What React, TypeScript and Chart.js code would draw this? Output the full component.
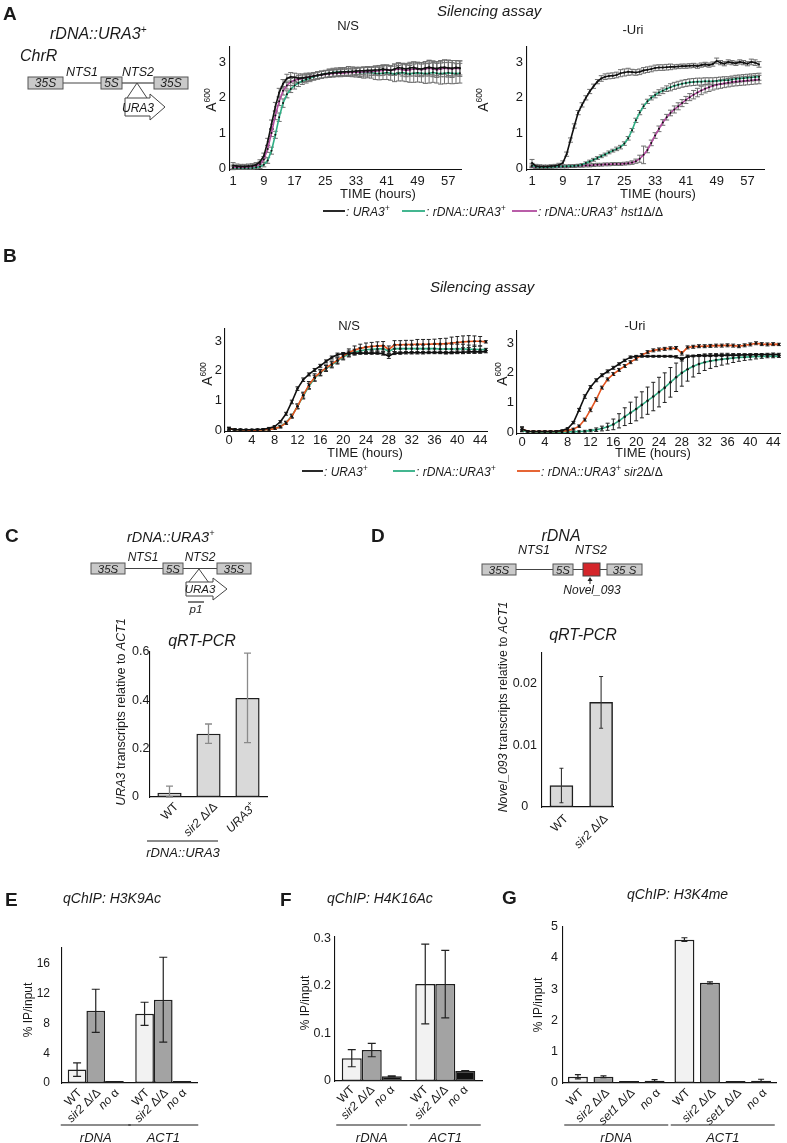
import React, { useEffect, useRef } from 'react';
import { Chart, registerables } from 'chart.js';

Chart.register(...registerables);

const FONT = '"Liberation Sans", Arial, Helvetica, sans-serif';
Chart.defaults.font.family = FONT;
Chart.defaults.color = '#1a1a1a';

// ---------------- DATA ----------------
const HOURS_A = [1,2,3,4,5,6,7,8,9,10,11,12,13,14,15,16,17,18,19,20,21,22,23,24,25,26,27,28,29,30,31,32,33,34,35,36,37,38,39,40,41,42,43,44,45,46,47,48,49,50,51,52,53,54,55,56,57,58,59,60];
const TICKS_A = [1, 9, 17, 25, 33, 41, 49, 57];
const HOURS_B = [0,1,2,3,4,5,6,7,8,9,10,11,12,13,14,15,16,17,18,19,20,21,22,23,24,25,26,27,28,29,30,31,32,33,34,35,36,37,38,39,40,41,42,43,44,45];
const TICKS_B = [0, 4, 8, 12, 16, 20, 24, 28, 32, 36, 40, 44];
const TICKS_OD = [0, 1, 2, 3];

// Panel A, N/S
const A_NS_URA3 = [0.08,0.06,0.05,0.05,0.06,0.07,0.1,0.18,0.35,0.75,1.25,1.75,2.15,2.4,2.55,2.6,2.58,2.56,2.56,2.58,2.6,2.62,2.64,2.66,2.68,2.7,2.71,2.72,2.73,2.74,2.74,2.75,2.76,2.77,2.77,2.78,2.78,2.79,2.8,2.82,2.8,2.78,2.82,2.86,2.84,2.82,2.85,2.86,2.83,2.82,2.85,2.87,2.85,2.83,2.86,2.87,2.85,2.84,2.86,2.85];
const A_NS_URA3_ERR = [0.08,0.06,0.06,0.06,0.06,0.06,0.06,0.06,0.08,0.1,0.12,0.12,0.12,0.12,0.12,0.12,0.12,0.12,0.12,0.12,0.1,0.1,0.1,0.1,0.1,0.1,0.1,0.1,0.1,0.1,0.1,0.1,0.1,0.1,0.1,0.1,0.1,0.12,0.12,0.12,0.12,0.12,0.14,0.14,0.14,0.16,0.16,0.16,0.18,0.18,0.18,0.2,0.2,0.2,0.2,0.2,0.22,0.22,0.2,0.2];
const A_NS_HST1 = [0.03,0.03,0.03,0.03,0.04,0.05,0.07,0.12,0.25,0.55,1.0,1.5,1.9,2.2,2.35,2.45,2.5,2.53,2.55,2.57,2.6,2.62,2.64,2.65,2.67,2.68,2.69,2.7,2.7,2.71,2.72,2.72,2.73,2.73,2.74,2.74,2.75,2.76,2.77,2.78,2.8,2.78,2.8,2.82,2.8,2.78,2.8,2.82,2.81,2.8,2.82,2.84,2.82,2.8,2.82,2.84,2.83,2.82,2.84,2.83];
const A_NS_HST1_ERR = [0.06,0.05,0.05,0.05,0.05,0.05,0.05,0.06,0.08,0.1,0.1,0.12,0.12,0.12,0.1,0.1,0.1,0.1,0.1,0.1,0.1,0.1,0.1,0.1,0.1,0.1,0.1,0.1,0.1,0.1,0.1,0.1,0.1,0.12,0.12,0.12,0.12,0.12,0.14,0.14,0.14,0.14,0.16,0.16,0.18,0.18,0.18,0.2,0.2,0.2,0.2,0.22,0.22,0.22,0.22,0.24,0.24,0.24,0.22,0.22];
const A_NS_RDNA = [0.01,0.01,0.01,0.01,0.01,0.01,0.02,0.04,0.1,0.22,0.5,0.95,1.45,1.85,2.1,2.25,2.35,2.42,2.48,2.52,2.56,2.6,2.63,2.66,2.68,2.7,2.72,2.73,2.74,2.74,2.75,2.74,2.73,2.72,2.72,2.73,2.72,2.7,2.69,2.7,2.72,2.7,2.68,2.7,2.72,2.7,2.68,2.7,2.71,2.7,2.69,2.7,2.72,2.7,2.69,2.7,2.71,2.7,2.69,2.7];
const A_NS_RDNA_ERR = [0.05,0.04,0.04,0.04,0.04,0.04,0.04,0.05,0.06,0.08,0.1,0.1,0.12,0.12,0.1,0.1,0.1,0.1,0.1,0.1,0.1,0.1,0.1,0.1,0.1,0.12,0.12,0.12,0.12,0.12,0.14,0.14,0.14,0.14,0.16,0.16,0.16,0.18,0.18,0.18,0.2,0.2,0.22,0.22,0.24,0.24,0.24,0.26,0.26,0.26,0.28,0.28,0.28,0.28,0.3,0.3,0.3,0.3,0.28,0.28];

// Panel A, -Uri
const A_URI_URA3 = [0.15,0.06,0.05,0.05,0.05,0.06,0.07,0.09,0.15,0.4,0.8,1.2,1.58,1.8,2.0,2.18,2.33,2.46,2.55,2.6,2.62,2.63,2.65,2.7,2.72,2.74,2.73,2.72,2.74,2.78,2.8,2.82,2.85,2.86,2.86,2.87,2.88,2.88,2.89,2.9,2.9,2.91,2.92,2.9,2.93,2.95,2.93,2.96,3.05,3.0,2.97,3.02,3.0,2.98,3.02,3.0,2.97,3.02,3.0,2.95];
const A_URI_URA3_ERR = [0.1,0.05,0.05,0.04,0.04,0.04,0.04,0.05,0.06,0.06,0.06,0.06,0.06,0.06,0.06,0.06,0.06,0.06,0.08,0.08,0.08,0.08,0.08,0.1,0.1,0.1,0.08,0.08,0.08,0.08,0.08,0.08,0.08,0.08,0.08,0.08,0.08,0.06,0.06,0.06,0.06,0.06,0.06,0.06,0.06,0.06,0.06,0.06,0.08,0.06,0.06,0.06,0.06,0.06,0.06,0.06,0.06,0.08,0.08,0.08];
const A_URI_RDNA = [0.08,0.04,0.03,0.03,0.03,0.04,0.04,0.05,0.05,0.06,0.06,0.07,0.08,0.1,0.15,0.19,0.24,0.29,0.34,0.39,0.45,0.5,0.55,0.6,0.7,0.85,1.08,1.36,1.58,1.76,1.9,2.0,2.08,2.15,2.2,2.26,2.3,2.34,2.37,2.4,2.42,2.44,2.45,2.46,2.46,2.47,2.47,2.47,2.48,2.49,2.5,2.5,2.52,2.54,2.55,2.56,2.57,2.58,2.59,2.6];
const A_URI_RDNA_ERR = [0.06,0.04,0.03,0.03,0.03,0.03,0.03,0.03,0.03,0.03,0.03,0.03,0.03,0.03,0.03,0.04,0.04,0.04,0.04,0.04,0.04,0.04,0.05,0.05,0.05,0.05,0.05,0.06,0.06,0.06,0.06,0.06,0.08,0.08,0.08,0.08,0.1,0.1,0.1,0.1,0.1,0.1,0.1,0.1,0.1,0.1,0.1,0.1,0.1,0.1,0.1,0.1,0.1,0.1,0.1,0.1,0.1,0.1,0.1,0.1];
const A_URI_HST1 = [0.05,0.03,0.03,0.03,0.03,0.03,0.04,0.04,0.05,0.05,0.06,0.06,0.07,0.07,0.08,0.08,0.09,0.1,0.1,0.11,0.11,0.12,0.12,0.12,0.13,0.14,0.16,0.2,0.27,0.38,0.52,0.72,0.93,1.12,1.3,1.45,1.57,1.67,1.76,1.85,1.94,2.02,2.09,2.15,2.21,2.26,2.3,2.34,2.37,2.39,2.41,2.43,2.45,2.46,2.47,2.48,2.49,2.5,2.51,2.52];
const A_URI_HST1_ERR = [0.04,0.03,0.03,0.03,0.03,0.03,0.03,0.03,0.04,0.04,0.04,0.04,0.04,0.04,0.04,0.04,0.04,0.04,0.04,0.04,0.04,0.04,0.04,0.04,0.04,0.04,0.05,0.06,0.1,0.25,0.08,0.08,0.08,0.08,0.08,0.08,0.08,0.1,0.1,0.1,0.1,0.1,0.12,0.12,0.12,0.12,0.12,0.12,0.12,0.12,0.12,0.12,0.12,0.12,0.12,0.12,0.12,0.12,0.12,0.12];

// Panel B, N/S
const B_NS_URA3 = [0.05,0.02,0.01,0.01,0.01,0.02,0.03,0.06,0.12,0.28,0.55,0.95,1.4,1.7,1.88,2.03,2.17,2.32,2.45,2.55,2.58,2.59,2.6,2.6,2.6,2.6,2.6,2.58,2.5,2.6,2.6,2.61,2.61,2.61,2.61,2.62,2.62,2.62,2.61,2.62,2.63,2.63,2.64,2.64,2.64,2.65];
const B_NS_URA3_ERR = [0.05,0.02,0.02,0.02,0.02,0.02,0.02,0.03,0.03,0.04,0.05,0.06,0.06,0.06,0.05,0.05,0.05,0.05,0.05,0.05,0.04,0.04,0.04,0.04,0.04,0.04,0.04,0.05,0.08,0.05,0.04,0.04,0.04,0.04,0.04,0.04,0.04,0.04,0.04,0.04,0.04,0.04,0.04,0.04,0.04,0.04];
const B_NS_RDNA = [0.04,0.02,0.01,0.0,0.0,0.0,0.01,0.02,0.05,0.12,0.25,0.48,0.8,1.15,1.48,1.75,1.93,2.08,2.2,2.33,2.47,2.57,2.63,2.68,2.71,2.73,2.74,2.75,2.66,2.75,2.75,2.75,2.75,2.75,2.75,2.75,2.75,2.74,2.74,2.74,2.74,2.74,2.73,2.73,2.72,2.72];
const B_NS_RDNA_ERR = [0.04,0.02,0.02,0.02,0.02,0.02,0.02,0.02,0.03,0.04,0.05,0.06,0.08,0.1,0.1,0.1,0.1,0.1,0.1,0.1,0.1,0.1,0.1,0.1,0.1,0.1,0.1,0.1,0.1,0.1,0.12,0.12,0.12,0.12,0.12,0.14,0.14,0.14,0.16,0.16,0.16,0.16,0.14,0.14,0.12,0.04];
const B_NS_SIR2 = [0.04,0.02,0.01,0.0,0.0,0.0,0.01,0.02,0.05,0.11,0.24,0.46,0.8,1.18,1.52,1.78,1.95,2.1,2.23,2.36,2.5,2.62,2.7,2.76,2.8,2.82,2.84,2.85,2.72,2.88,2.88,2.89,2.89,2.9,2.9,2.9,2.91,2.91,2.92,2.94,2.96,2.98,2.99,3.0,3.0,2.98];
const B_NS_SIR2_ERR = [0.04,0.02,0.02,0.02,0.02,0.02,0.02,0.02,0.03,0.04,0.05,0.06,0.08,0.1,0.12,0.12,0.1,0.1,0.1,0.1,0.1,0.12,0.14,0.14,0.14,0.14,0.14,0.14,0.12,0.14,0.14,0.14,0.14,0.16,0.16,0.16,0.16,0.18,0.18,0.2,0.2,0.2,0.2,0.18,0.16,0.04];

// Panel B, -Uri
const B_URI_URA3 = [0.1,0.03,0.02,0.02,0.02,0.02,0.03,0.05,0.12,0.32,0.75,1.2,1.52,1.75,1.92,2.05,2.17,2.3,2.42,2.53,2.56,2.56,2.56,2.56,2.56,2.56,2.56,2.54,2.46,2.56,2.57,2.58,2.58,2.58,2.59,2.59,2.6,2.6,2.6,2.61,2.61,2.62,2.62,2.62,2.63,2.62];
const B_URI_URA3_ERR = [0.08,0.02,0.02,0.02,0.02,0.02,0.02,0.02,0.03,0.04,0.05,0.06,0.05,0.05,0.05,0.05,0.05,0.04,0.04,0.04,0.03,0.03,0.03,0.03,0.03,0.03,0.03,0.04,0.06,0.04,0.03,0.03,0.03,0.03,0.03,0.03,0.03,0.03,0.03,0.03,0.03,0.03,0.03,0.04,0.04,0.04];
const B_URI_RDNA = [0.05,0.02,0.01,0.0,0.0,0.0,0.0,0.0,0.01,0.01,0.02,0.03,0.05,0.08,0.12,0.18,0.26,0.38,0.52,0.65,0.78,0.92,1.06,1.2,1.35,1.5,1.68,1.85,2.0,2.12,2.22,2.3,2.36,2.4,2.43,2.46,2.48,2.5,2.52,2.53,2.54,2.55,2.55,2.56,2.56,2.56];
const B_URI_RDNA_ERR = [0.04,0.02,0.02,0.02,0.02,0.02,0.02,0.02,0.02,0.02,0.02,0.03,0.04,0.06,0.08,0.12,0.18,0.24,0.3,0.36,0.4,0.44,0.46,0.48,0.5,0.5,0.5,0.48,0.45,0.4,0.36,0.32,0.28,0.25,0.22,0.2,0.18,0.15,0.13,0.11,0.1,0.08,0.06,0.05,0.05,0.04];
const B_URI_SIR2 = [0.1,0.03,0.02,0.02,0.02,0.02,0.02,0.03,0.05,0.1,0.2,0.42,0.75,1.1,1.5,1.78,1.96,2.1,2.23,2.36,2.48,2.6,2.7,2.76,2.79,2.81,2.83,2.84,2.66,2.86,2.88,2.9,2.9,2.91,2.92,2.92,2.93,2.92,2.9,2.93,2.96,3.0,2.97,2.96,2.97,2.96];
const B_URI_SIR2_ERR = [0.06,0.02,0.02,0.02,0.02,0.02,0.02,0.02,0.02,0.03,0.04,0.05,0.06,0.06,0.05,0.05,0.05,0.05,0.05,0.05,0.05,0.05,0.05,0.05,0.05,0.05,0.05,0.05,0.06,0.05,0.05,0.05,0.05,0.05,0.05,0.05,0.05,0.05,0.05,0.05,0.05,0.05,0.05,0.05,0.05,0.04];

// Panel C
const C_CATEGORIES = ['WT', 'sir2 Δ/Δ', 'URA3+'];
const C_VALUES = [0.018, 0.262, 0.41];
const C_ERRORS = [0.027, 0.04, 0.185];
const C_TICKS = [0, 0.2, 0.4, 0.6];
// Panel D
const D_CATEGORIES = ['WT', 'sir2 Δ/Δ'];
const D_POSITIONS = [1, 2];
const D_VALUES = [0.0035, 0.017];
const D_ERRORS = [0.0028, 0.0042];
const D_TICKS = [0, 0.01, 0.02];
// Panels E-G
const CHIP_LOCI = ['rDNA', 'ACT1'];
const E_WT = [1.8, 9.3];
const E_WT_ERR = [0.9, 1.55];
const E_SIR2 = [9.7, 11.2];
const E_SIR2_ERR = [2.9, 5.7];
const E_NOAB = [0.15, 0.15];
const E_TICKS = [0, 4, 8, 12, 16];
const F_WT = [0.048, 0.204];
const F_WT_ERR = [0.018, 0.084];
const F_SIR2 = [0.065, 0.204];
const F_SIR2_ERR = [0.014, 0.071];
const F_NOAB = [0.01, 0.021];
const F_NOAB_ERR = [0.001, 0.001];
const F_TICKS = [0, 0.1, 0.2, 0.3];
const G_WT = [0.2, 4.58];
const G_WT_ERR = [0.07, 0.06];
const G_SIR2 = [0.2, 3.2];
const G_SIR2_ERR = [0.03, 0.03];
const G_SET1 = [0.04, 0.04];
const G_NOAB = [0.07, 0.07];
const G_NOAB_ERR = [0.04, 0.05];
const G_TICKS = [0, 1, 2, 3, 4, 5];

// ---------------- STYLE ----------------
const C_BLACK = '#111111';
const C_GREEN = '#2fae84';
const C_MAGENTA = '#b24b9f';
const C_ORANGE = '#e4541f';
const BAR_LIGHT = '#f2f2f2';
const BAR_MID = '#a3a3a3';
const BAR_DARK = '#111111';
const BAR_C = '#d9d9d9';

type Box = { cx: number; cy: number; cw: number; ch: number; l: number; t: number; r: number; b: number };
type Seg = { t: string; i?: boolean; sup?: boolean };

const BOX_A_NS: Box = { cx: 202, cy: 35, cw: 265, ch: 157, l: 230, t: 40, r: 461, b: 170 };
const BOX_A_URI: Box = { cx: 499, cy: 35, cw: 273, ch: 157, l: 527, t: 40, r: 764, b: 170 };
const BOX_B_NS: Box = { cx: 197, cy: 318, cw: 298, ch: 134, l: 225, t: 325, r: 487, b: 432 };
const BOX_B_URI: Box = { cx: 489, cy: 320, cw: 297, ch: 134, l: 517, t: 327, r: 780, b: 434 };
const BOX_C: Box = { cx: 132, cy: 640, cw: 143, ch: 210, l: 150, t: 652, r: 267, b: 797 };
const BOX_D: Box = { cx: 510, cy: 640, cw: 115, ch: 220, l: 542, t: 648, r: 613, b: 807 };
const BOX_E: Box = { cx: 24, cy: 928, cw: 186, ch: 215, l: 62, t: 937, r: 197, b: 1083 };
const BOX_F: Box = { cx: 300, cy: 925, cw: 195, ch: 218, l: 335, t: 935, r: 482, b: 1081 };
const BOX_G: Box = { cx: 533, cy: 914, cw: 254, ch: 229, l: 563, t: 924, r: 776, b: 1083 };

// ---------------- PLUGINS ----------------
function errPlugin(color: string, width: number, cap: number, under: boolean) {
  const draw = (chart: any) => {
    const ctx = chart.ctx;
    ctx.save();
    ctx.strokeStyle = color;
    ctx.lineWidth = width;
    chart.data.datasets.forEach((ds: any, di: number) => {
      const errs = ds.errors;
      if (!errs) return;
      const meta = chart.getDatasetMeta(di);
      const ys = chart.scales[meta.yAxisID];
      meta.data.forEach((el: any, i: number) => {
        const e = errs[i];
        if (!e) return;
        const raw = ds.data[i];
        const v = typeof raw === 'number' ? raw : raw.y;
        const x = el.x;
        const y1 = ys.getPixelForValue(v + e);
        const y2 = ys.getPixelForValue(Math.max(ys.min, v - e));
        ctx.beginPath();
        ctx.moveTo(x, y1); ctx.lineTo(x, y2);
        ctx.moveTo(x - cap, y1); ctx.lineTo(x + cap, y1);
        ctx.moveTo(x - cap, y2); ctx.lineTo(x + cap, y2);
        ctx.stroke();
      });
    });
    ctx.restore();
  };
  return under ? { id: 'errUnder', beforeDatasetsDraw: draw } : { id: 'errOver', afterDatasetsDraw: draw };
}

function drawSegs(ctx: any, segs: Seg[], x: number, y: number, size: number) {
  const f = (s: Seg) => `${s.i ? 'italic ' : ''}${s.sup ? Math.round(size * 0.7) : size}px ${FONT}`;
  let total = 0;
  segs.forEach((s) => { ctx.font = f(s); total += ctx.measureText(s.t).width; });
  ctx.save();
  ctx.translate(x, y);
  ctx.rotate(-Math.PI / 4);
  ctx.textBaseline = 'middle';
  ctx.textAlign = 'left';
  ctx.fillStyle = '#1a1a1a';
  let cur = -total;
  segs.forEach((s) => {
    ctx.font = f(s);
    ctx.fillText(s.t, cur, s.sup ? -size * 0.35 : 0);
    cur += ctx.measureText(s.t).width;
  });
  ctx.restore();
}

function labelPlugin(o: { labelFor: (di: number, i: number) => Seg[]; dx: number; dy: number; size: number; groups?: { names: string[]; half: number; lineDy: number; textDy: number } }) {
  return {
    id: 'barLabels',
    afterDraw(chart: any) {
      const ctx = chart.ctx;
      const bottom = chart.chartArea.bottom;
      chart.data.datasets.forEach((ds: any, di: number) => {
        const meta = chart.getDatasetMeta(di);
        meta.data.forEach((el: any, i: number) => {
          drawSegs(ctx, o.labelFor(di, i), el.x + o.dx, bottom + o.dy, o.size);
        });
      });
      if (o.groups) {
        const g = o.groups;
        const xs = chart.scales.x;
        g.names.forEach((n, gi) => {
          const cx = xs.getPixelForValue(gi);
          ctx.save();
          ctx.strokeStyle = '#1a1a1a';
          ctx.lineWidth = 1.2;
          ctx.beginPath();
          ctx.moveTo(cx - g.half, bottom + g.lineDy);
          ctx.lineTo(cx + g.half, bottom + g.lineDy);
          ctx.stroke();
          ctx.font = `italic 13px ${FONT}`;
          ctx.textAlign = 'center';
          ctx.textBaseline = 'alphabetic';
          ctx.fillStyle = '#1a1a1a';
          ctx.fillText(n, cx, bottom + g.textDy);
          ctx.restore();
        });
      }
    },
  };
}

// ---------------- CONFIG BUILDERS ----------------
function yAxis(box: Box, min: number, max: number, ticks: number[], size: number, pad: number, align = 'near') {
  return {
    type: 'linear', position: 'left', min, max,
    afterBuildTicks: (s: any) => { s.ticks = ticks.map((v) => ({ value: v })); },
    afterFit: (s: any) => { s.width = box.l - box.cx; },
    grid: { display: false, drawTicks: false },
    border: { display: true, color: '#111', width: 1.1 },
    ticks: { font: { size }, color: '#1a1a1a', padding: pad, crossAlign: align, callback: (v: any) => String(v) },
  };
}

function layout(box: Box) {
  return { padding: { top: box.t - box.cy, right: box.cx + box.cw - box.r, left: 0, bottom: 0 } };
}

type Series = { values: number[]; errors: number[]; color: string };

function lineConfig(box: Box, hours: number[], series: Series[], xr: number[], xticks: number[], yr: number[], o: any) {
  return {
    type: 'line',
    data: {
      datasets: series.map((s) => ({
        data: hours.map((h, i) => ({ x: h, y: s.values[i] })),
        errors: s.errors,
        borderColor: s.color,
        borderWidth: o.lw,
        pointRadius: o.pr,
        pointBackgroundColor: '#111',
        pointBorderWidth: 0,
        pointHoverRadius: 0,
        tension: 0,
        fill: false,
      })),
    },
    options: {
      responsive: false, maintainAspectRatio: false, animation: false, events: [],
      layout: layout(box),
      plugins: { legend: { display: false }, tooltip: { enabled: false } },
      scales: {
        x: {
          type: 'linear', min: xr[0], max: xr[1],
          afterBuildTicks: (s: any) => { s.ticks = xticks.map((v) => ({ value: v })); },
          afterFit: (s: any) => { s.height = box.cy + box.ch - box.b; },
          grid: { display: false, drawTicks: false },
          border: { display: true, color: '#111', width: 1.1 },
          ticks: { font: { size: 13 }, color: '#1a1a1a', padding: o.xpad, maxRotation: 0, autoSkip: false, callback: (v: any) => String(v) },
        },
        y: yAxis(box, yr[0], yr[1], TICKS_OD, 13, o.ypad),
      },
    },
    plugins: [errPlugin(o.err, 1, o.cap, true)],
  };
}

function barDataset(values: any[], errors: number[] | null, fill: string, extra: any = {}) {
  return { data: values, errors, backgroundColor: fill, borderColor: '#1f1f1f', borderWidth: 1.5, borderSkipped: false, ...extra };
}

function barConfig(box: Box, labels: any, datasets: any[], yr: number[], yticks: number[], o: any) {
  return {
    type: 'bar',
    data: { labels, datasets },
    options: {
      responsive: false, maintainAspectRatio: false, animation: false, events: [],
      layout: layout(box),
      plugins: { legend: { display: false }, tooltip: { enabled: false } },
      scales: {
        x: {
          ...(o.xLinear ? { type: 'linear', min: o.xLinear[0], max: o.xLinear[1], offset: false } : { type: 'category', offset: true }),
          afterFit: (s: any) => { s.height = box.cy + box.ch - box.b; },
          grid: { display: false, drawTicks: false },
          border: { display: true, color: '#111', width: 1.2 },
          ticks: { display: false },
        },
        y: yAxis(box, yr[0], yr[1], yticks, o.tick, o.tpad, o.align),
      },
    },
    plugins: [errPlugin(o.errColor, o.errWidth, o.cap, false), labelPlugin(o.labels)],
  };
}

const STRAIN_SEGS: Seg[][] = [
  [{ t: 'WT' }],
  [{ t: 'sir2', i: true }, { t: ' Δ/Δ' }],
  [{ t: 'no', i: true }, { t: ' α' }],
];
const STRAIN_SEGS_G: Seg[][] = [
  [{ t: 'WT' }],
  [{ t: 'sir2', i: true }, { t: ' Δ/Δ' }],
  [{ t: 'set1', i: true }, { t: ' Δ/Δ' }],
  [{ t: 'no', i: true }, { t: ' α' }],
];
const C_SEGS: Seg[][] = [
  [{ t: 'WT' }],
  [{ t: 'sir2', i: true }, { t: ' Δ/Δ' }],
  [{ t: 'URA3', i: true }, { t: '+', sup: true }],
];
const D_SEGS: Seg[][] = [
  [{ t: 'WT' }],
  [{ t: 'sir2', i: true }, { t: ' Δ/Δ' }],
];

const mkANS = (box: Box) => lineConfig(box, HOURS_A, [
  { values: A_NS_URA3, errors: A_NS_URA3_ERR, color: C_BLACK },
  { values: A_NS_HST1, errors: A_NS_HST1_ERR, color: C_MAGENTA },
  { values: A_NS_RDNA, errors: A_NS_RDNA_ERR, color: C_GREEN },
], [0.2, 60.3], TICKS_A, [-0.05, 3.45], { lw: 1.6, pr: 1, err: '#6f6f6f', cap: 2.5, xpad: 4, ypad: 4 });

const mkAURI = (box: Box) => lineConfig(box, HOURS_A, [
  { values: A_URI_URA3, errors: A_URI_URA3_ERR, color: C_BLACK },
  { values: A_URI_RDNA, errors: A_URI_RDNA_ERR, color: C_GREEN },
  { values: A_URI_HST1, errors: A_URI_HST1_ERR, color: C_MAGENTA },
], [-0.3, 61.3], TICKS_A, [-0.05, 3.45], { lw: 1.6, pr: 1, err: '#6f6f6f', cap: 2.5, xpad: 4, ypad: 4 });

const mkBNS = (box: Box) => lineConfig(box, HOURS_B, [
  { values: B_NS_URA3, errors: B_NS_URA3_ERR, color: C_BLACK },
  { values: B_NS_SIR2, errors: B_NS_SIR2_ERR, color: C_ORANGE },
  { values: B_NS_RDNA, errors: B_NS_RDNA_ERR, color: C_GREEN },
], [-0.7, 45.2], TICKS_B, [-0.065, 3.42], { lw: 1.6, pr: 1.3, err: '#222', cap: 2, xpad: 1, ypad: 3 });

const mkBURI = (box: Box) => lineConfig(box, HOURS_B, [
  { values: B_URI_URA3, errors: B_URI_URA3_ERR, color: C_BLACK },
  { values: B_URI_SIR2, errors: B_URI_SIR2_ERR, color: C_ORANGE },
  { values: B_URI_RDNA, errors: B_URI_RDNA_ERR, color: C_GREEN },
], [-0.88, 45.2], TICKS_B, [-0.065, 3.42], { lw: 1.6, pr: 1.3, err: '#222', cap: 2, xpad: 1, ypad: 3 });

const mkC = (box: Box) => barConfig(box, C_CATEGORIES, [
  barDataset(C_VALUES, C_ERRORS, BAR_C, { barPercentage: 0.62, categoryPercentage: 1 }),
], [0, 0.6], C_TICKS, {
  tick: 12.5, tpad: 3, align: 'far', errColor: '#8a8a8a', errWidth: 1.3, cap: 3.5,
  labels: { labelFor: (_d: number, i: number) => C_SEGS[i], dx: 7, dy: 8, size: 12 },
});

const mkD = (box: Box) => barConfig(box, undefined, [
  barDataset(D_VALUES.map((v, i) => ({ x: D_POSITIONS[i], y: v })), D_ERRORS, BAR_C, { barThickness: 23 }),
], [0, 0.0251], D_TICKS, {
  tick: 12.5, tpad: 5, align: 'center', errColor: '#333', errWidth: 1.1, cap: 2, xLinear: [0.51, 2.3],
  labels: { labelFor: (_d: number, i: number) => D_SEGS[i], dx: 5, dy: 10, size: 12 },
});

const mkE = (box: Box) => barConfig(box, CHIP_LOCI, [
  barDataset(E_WT, E_WT_ERR, BAR_LIGHT, { categoryPercentage: 0.83, barPercentage: 1 }),
  barDataset(E_SIR2, E_SIR2_ERR, BAR_MID, { categoryPercentage: 0.83, barPercentage: 1 }),
  barDataset(E_NOAB, null, BAR_DARK, { categoryPercentage: 0.83, barPercentage: 1, minBarLength: 2 }),
], [0, 18.25], E_TICKS, {
  tick: 12, tpad: 12, align: 'near', errColor: '#222', errWidth: 1.2, cap: 4,
  labels: { labelFor: (di: number) => STRAIN_SEGS[di], dx: 3, dy: 8, size: 12, groups: { names: CHIP_LOCI, half: 35, lineDy: 42, textDy: 59 } },
});

const mkF = (box: Box) => barConfig(box, CHIP_LOCI, [
  barDataset(F_WT, F_WT_ERR, BAR_LIGHT, { categoryPercentage: 0.816, barPercentage: 1 }),
  barDataset(F_SIR2, F_SIR2_ERR, BAR_MID, { categoryPercentage: 0.816, barPercentage: 1 }),
  barDataset(F_NOAB, F_NOAB_ERR, BAR_DARK, { categoryPercentage: 0.816, barPercentage: 1, minBarLength: 2 }),
], [0, 0.304], F_TICKS, {
  tick: 12.5, tpad: 4, align: 'near', errColor: '#222', errWidth: 1.2, cap: 4,
  labels: { labelFor: (di: number) => STRAIN_SEGS[di], dx: 1, dy: 7, size: 12, groups: { names: CHIP_LOCI, half: 35.5, lineDy: 44, textDy: 61 } },
});

const mkG = (box: Box) => barConfig(box, CHIP_LOCI, [
  barDataset(G_WT, G_WT_ERR, BAR_LIGHT, { categoryPercentage: 0.96, barPercentage: 0.78 }),
  barDataset(G_SIR2, G_SIR2_ERR, BAR_MID, { categoryPercentage: 0.96, barPercentage: 0.78 }),
  barDataset(G_SET1, null, BAR_DARK, { categoryPercentage: 0.96, barPercentage: 0.78, minBarLength: 2 }),
  barDataset(G_NOAB, G_NOAB_ERR, BAR_DARK, { categoryPercentage: 0.96, barPercentage: 0.78, minBarLength: 2 }),
], [0, 5], G_TICKS, {
  tick: 12.5, tpad: 5, align: 'near', errColor: '#222', errWidth: 1.2, cap: 3,
  labels: { labelFor: (di: number) => STRAIN_SEGS_G[di], dx: 4, dy: 8, size: 12, groups: { names: CHIP_LOCI, half: 52, lineDy: 42, textDy: 59 } },
});

// ---------------- COMPONENTS ----------------
function ChartBox({ box, make }: { box: Box; make: (b: Box) => any }) {
  const ref = useRef<HTMLCanvasElement>(null);
  useEffect(() => {
    const c = new Chart(ref.current as any, make(box));
    return () => c.destroy();
  }, []);
  return (
    <canvas ref={ref} width={box.cw} height={box.ch}
      style={{ position: 'absolute', left: box.cx, top: box.cy, width: box.cw, height: box.ch }} />
  );
}

const T = (p: any) => {
  const { x, y, s = 13, a = 'start', it = false, b = false, rot = false, children } = p;
  return (
    <text x={x} y={y} fontSize={s} textAnchor={a} fontStyle={it ? 'italic' : 'normal'} fontWeight={b ? 700 : 400}
      fill="#1a1a1a" transform={rot ? `rotate(-90 ${x} ${y})` : undefined}>{children}</text>
  );
};

const GBox = ({ x, y, w, h, label, s = 12, fill = '#c9c9c9' }: any) => (
  <g>
    <rect x={x} y={y} width={w} height={h} fill={fill} stroke="#555" strokeWidth={1} />
    {label ? <text x={x + w / 2} y={y + h / 2 + s * 0.36} fontSize={s} fontStyle="italic" textAnchor="middle" fill="#222">{label}</text> : null}
  </g>
);

const Sup = ({ s = 8.5, d = 5 }: any) => <tspan fontSize={s} dy={-d}>+</tspan>;

const A600 = ({ cx, cy }: any) => (
  <text x={cx + 5} y={cy} fontSize={14} textAnchor="middle" fill="#1a1a1a" transform={`rotate(-90 ${cx + 5} ${cy})`}>
    A<tspan fontSize={8.5} dy={-6}>600</tspan>
  </text>
);

const LegItem = ({ x1, x2, y, color, children }: any) => (
  <g>
    <line x1={x1} x2={x2} y1={y} y2={y} stroke={color} strokeWidth={1.8} />
    <text x={x2 + 1} y={y + 4.5} fontSize={12} fontStyle="italic" fill="#1a1a1a">{children}</text>
  </g>
);

function Overlay() {
  return (
    <svg width={787} height={1143} style={{ position: 'absolute', left: 0, top: 0, pointerEvents: 'none', fontFamily: FONT }}>
      {/* Panel letters */}
      <T x={3} y={20} s={19} b>A</T>
      <T x={3} y={262} s={19} b>B</T>
      <T x={5} y={542} s={19} b>C</T>
      <T x={371} y={542} s={19} b>D</T>
      <T x={5} y={906} s={19} b>E</T>
      <T x={280} y={906} s={19} b>F</T>
      <T x={502} y={904} s={19} b>G</T>

      {/* Panel A diagram */}
      <T x={50} y={39} s={16} it>rDNA::URA3<Sup s={10} d={6} /></T>
      <T x={20} y={61} s={16} it>ChrR</T>
      <line x1={63} x2={101} y1={83} y2={83} stroke="#444" strokeWidth={1.2} />
      <line x1={122} x2={154} y1={83} y2={83} stroke="#444" strokeWidth={1.2} />
      <GBox x={28} y={77} w={35} h={12} label="35S" />
      <GBox x={101} y={77} w={21} h={12} label="5S" />
      <GBox x={154} y={77} w={34} h={12} label="35S" />
      <T x={82} y={76} s={12.5} a="middle" it>NTS1</T>
      <T x={138} y={76} s={12.5} a="middle" it>NTS2</T>
      <polyline points="127,98 137,83 147,98" fill="none" stroke="#444" strokeWidth={1} />
      <polygon points="125,98 150,98 150,94 165,107 150,120 150,116 125,116" fill="#fff" stroke="#444" strokeWidth={1} />
      <T x={138} y={112} s={12} a="middle" it>URA3</T>

      {/* Panel A chart texts */}
      <T x={437} y={16} s={15} it>Silencing assay</T>
      <T x={348} y={30} s={13} a="middle">N/S</T>
      <T x={633} y={34} s={13} a="middle">-Uri</T>
      <T x={378} y={198} s={13} a="middle">TIME (hours)</T>
      <T x={658} y={198} s={13} a="middle">TIME (hours)</T>
      <A600 cx={211} cy={100} />
      <A600 cx={483} cy={100} />
      <LegItem x1={323} x2={345} y={211} color={C_BLACK}>: URA3<Sup /></LegItem>
      <LegItem x1={402} x2={425} y={211} color={C_GREEN}>: rDNA::URA3<Sup /></LegItem>
      <LegItem x1={512} x2={537} y={211} color={C_MAGENTA}>: rDNA::URA3<Sup /><tspan dy={5}>{' hst1'}</tspan><tspan fontStyle="normal">Δ/Δ</tspan></LegItem>

      {/* Panel B texts */}
      <T x={430} y={292} s={15} it>Silencing assay</T>
      <T x={349} y={330} s={13} a="middle">N/S</T>
      <T x={635} y={330} s={13} a="middle">-Uri</T>
      <T x={365} y={457} s={13} a="middle">TIME (hours)</T>
      <T x={653} y={457} s={13} a="middle">TIME (hours)</T>
      <A600 cx={207} cy={374} />
      <A600 cx={502} cy={374} />
      <LegItem x1={302} x2={323} y={471} color={C_BLACK}>: URA3<Sup /></LegItem>
      <LegItem x1={393} x2={415} y={471} color={C_GREEN}>: rDNA::URA3<Sup /></LegItem>
      <LegItem x1={517} x2={540} y={471} color={C_ORANGE}>: rDNA::URA3<Sup /><tspan dy={5}>{' sir2'}</tspan><tspan fontStyle="normal">Δ/Δ</tspan></LegItem>

      {/* Panel C */}
      <T x={127} y={542} s={14.5} it>rDNA::URA3<Sup s={9} d={6} /></T>
      <line x1={125} x2={163} y1={568.5} y2={568.5} stroke="#444" strokeWidth={1.2} />
      <line x1={183} x2={217} y1={568.5} y2={568.5} stroke="#444" strokeWidth={1.2} />
      <GBox x={91} y={563} w={34} h={11} label="35S" s={11.5} />
      <GBox x={163} y={563} w={20} h={11} label="5S" s={11.5} />
      <GBox x={217} y={563} w={34} h={11} label="35S" s={11.5} />
      <T x={143} y={561} s={12} a="middle" it>NTS1</T>
      <T x={200} y={561} s={12} a="middle" it>NTS2</T>
      <polyline points="188,583 199,569 209,583" fill="none" stroke="#444" strokeWidth={1} />
      <polygon points="186,582 213,582 213,578 227,589 213,600 213,596 186,596" fill="#fff" stroke="#444" strokeWidth={1} />
      <T x={200} y={593} s={11.5} a="middle" it>URA3</T>
      <line x1={188} x2={204} y1={602} y2={602} stroke="#222" strokeWidth={1.2} />
      <T x={196} y={613} s={11.5} a="middle" it>p1</T>
      <T x={202} y={646} s={16} a="middle" it>qRT-PCR</T>
      <T x={125} y={712} s={12.5} a="middle" rot><tspan fontStyle="italic">URA3</tspan> transcripts relative to <tspan fontStyle="italic">ACT1</tspan></T>
      <line x1={147} x2={218} y1={841} y2={841} stroke="#1a1a1a" strokeWidth={1.2} />
      <T x={183} y={857} s={13} a="middle" it>rDNA::URA3</T>

      {/* Panel D */}
      <T x={561} y={541} s={16} a="middle" it>rDNA</T>
      <T x={534} y={554} s={12.5} a="middle" it>NTS1</T>
      <T x={591} y={554} s={12.5} a="middle" it>NTS2</T>
      <line x1={516} x2={553} y1={569.5} y2={569.5} stroke="#444" strokeWidth={1.2} />
      <line x1={573} x2={607} y1={569.5} y2={569.5} stroke="#444" strokeWidth={1.2} />
      <GBox x={482} y={564} w={34} h={11} label="35S" s={11.5} />
      <GBox x={553} y={564} w={20} h={11} label="5S" s={11.5} />
      <rect x={583} y={563} width={17} height={13} fill="#d4262b" stroke="#444" strokeWidth={1} />
      <GBox x={607} y={564} w={35} h={11} label="35 S" s={11.5} />
      <line x1={590} x2={590} y1={584} y2={580} stroke="#222" strokeWidth={1} />
      <polygon points="587.5,581 592.5,581 590,577" fill="#222" />
      <T x={592} y={594} s={12} a="middle" it>Novel_093</T>
      <T x={583} y={640} s={16} a="middle" it>qRT-PCR</T>
      <T x={507} y={707} s={12.3} a="middle" rot><tspan fontStyle="italic">Novel_093</tspan> transcripts relative to <tspan fontStyle="italic">ACT1</tspan></T>

      {/* Panels E-G titles and y labels */}
      <T x={63} y={903} s={14} it>qChIP: H3K9Ac</T>
      <T x={327} y={903} s={14} it>qChIP: H4K16Ac</T>
      <T x={627} y={899} s={14} it>qChIP: H3K4me</T>
      <T x={32} y={1010} s={12} a="middle" rot>% IP/input</T>
      <T x={309} y={1003} s={12} a="middle" rot>% IP/input</T>
      <T x={542} y={1005} s={12} a="middle" rot>% IP/input</T>
    </svg>
  );
}

export default function App() {
  return (
    <div style={{ position: 'absolute', left: 0, top: 0, width: 787, height: 1143, background: '#fff', overflow: 'hidden', fontFamily: FONT }}>
      <ChartBox box={BOX_A_NS} make={mkANS} />
      <ChartBox box={BOX_A_URI} make={mkAURI} />
      <ChartBox box={BOX_B_NS} make={mkBNS} />
      <ChartBox box={BOX_B_URI} make={mkBURI} />
      <ChartBox box={BOX_C} make={mkC} />
      <ChartBox box={BOX_D} make={mkD} />
      <ChartBox box={BOX_E} make={mkE} />
      <ChartBox box={BOX_F} make={mkF} />
      <ChartBox box={BOX_G} make={mkG} />
      <Overlay />
    </div>
  );
}
